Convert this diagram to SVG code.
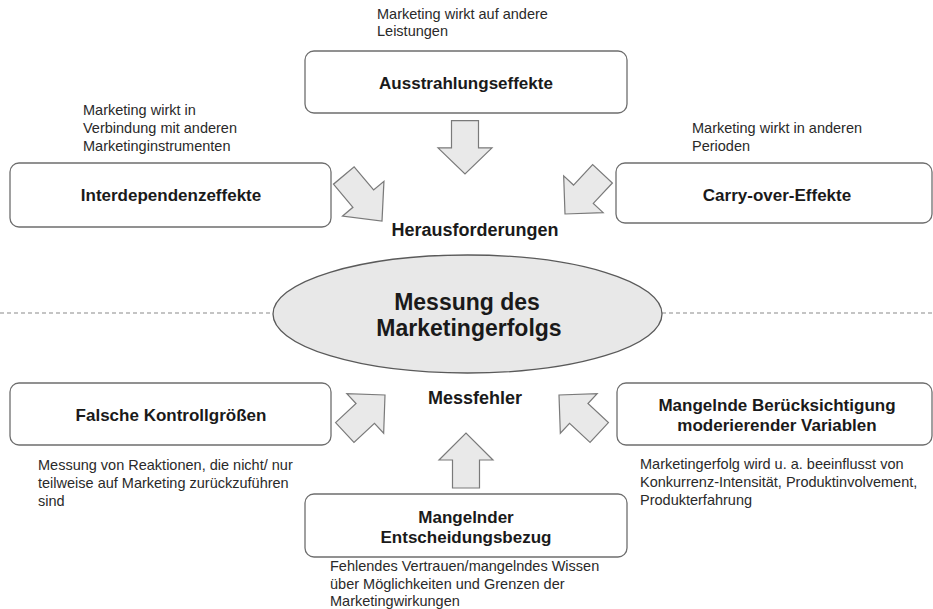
<svg xmlns="http://www.w3.org/2000/svg" xmlns:xlink="http://www.w3.org/1999/xlink" width="933" height="609" viewBox="0 0 933 609">
<style>
.box{fill:#fff;stroke:#6e6e6e;stroke-width:1.3}
.arr{fill:#e9e9e9;stroke:#7a7a7a;stroke-width:1.2;stroke-linejoin:miter}
.lbl{font-family:"Liberation Sans",Arial,sans-serif;font-weight:bold;font-size:17px;fill:#1a1a1a;text-anchor:middle}
.big{font-family:"Liberation Sans",Arial,sans-serif;font-weight:bold;font-size:18px;fill:#1a1a1a;text-anchor:middle}
.core{font-family:"Liberation Sans",Arial,sans-serif;font-weight:bold;font-size:23px;fill:#1a1a1a;text-anchor:middle}
.note{font-family:"Liberation Sans",Arial,sans-serif;font-size:14.5px;fill:#2a2a2a}
.dash{stroke:#8a8a8a;stroke-width:1.2;stroke-dasharray:4 3;fill:none}
</style>
<defs>
<polygon id="blk" points="-55,-13.5 -27,-13.5 -27,-27 0,0 -27,27 -27,13.5 -55,13.5"/>
</defs>
<rect width="933" height="609" fill="#fff"/>

<g id="divider">
<line class="dash" x1="0" y1="313" x2="273" y2="313"/>
<line class="dash" x1="662" y1="313" x2="933" y2="313"/>
</g>

<g id="connectors">
<use xlink:href="#blk" class="arr" transform="translate(465,174) rotate(90) scale(0.97,1)"/>
<use xlink:href="#blk" class="arr" transform="translate(382,221) rotate(50) scale(1.08,1)"/>
<use xlink:href="#blk" class="arr" transform="translate(565,214) rotate(133)"/>
<use xlink:href="#blk" class="arr" transform="translate(385,395) rotate(-43)"/>
<use xlink:href="#blk" class="arr" transform="translate(559,395) rotate(-137)"/>
<use xlink:href="#blk" class="arr" transform="translate(466,433) rotate(-90)"/>
</g>

<g id="node-ausstrahlung">
<text class="note" x="377" y="19">Marketing wirkt auf andere</text>
<text class="note" x="377" y="36">Leistungen</text>
<rect class="box" x="305" y="51" width="322" height="62" rx="9"/>
<text class="lbl" x="466" y="89">Ausstrahlungseffekte</text>
</g>

<g id="node-interdependenz">
<text class="note" x="83" y="115">Marketing wirkt in</text>
<text class="note" x="83" y="133">Verbindung mit anderen</text>
<text class="note" x="83" y="151">Marketinginstrumenten</text>
<rect class="box" x="10" y="163" width="321" height="64" rx="9"/>
<text class="lbl" x="171" y="201">Interdependenzeffekte</text>
</g>

<g id="node-carryover">
<text class="note" x="692" y="133">Marketing wirkt in anderen</text>
<text class="note" x="692" y="151">Perioden</text>
<rect class="box" x="616" y="163" width="316" height="60" rx="9"/>
<text class="lbl" x="777" y="201">Carry-over-Effekte</text>
</g>

<g id="node-herausforderungen">
<text class="big" x="475" y="236">Herausforderungen</text>
</g>

<g id="node-center">
<ellipse cx="467.5" cy="314" rx="194.5" ry="59" fill="#e8e8e8" stroke="#5a5a5a" stroke-width="1.3"/>
<text class="core" x="467" y="310">Messung des</text>
<text class="core" x="469" y="336">Marketingerfolgs</text>
</g>

<g id="node-messfehler">
<text class="big" x="475" y="404">Messfehler</text>
</g>

<g id="node-kontrollgroessen">
<rect class="box" x="10" y="383" width="321" height="62" rx="9"/>
<text class="lbl" x="171" y="421">Falsche Kontrollgrößen</text>
<text class="note" x="38" y="470">Messung von Reaktionen, die nicht/ nur</text>
<text class="note" x="38" y="488">teilweise auf Marketing zurückzuführen</text>
<text class="note" x="38" y="506">sind</text>
</g>

<g id="node-moderierend">
<rect class="box" x="617" y="383" width="315" height="62" rx="9"/>
<text class="lbl" x="777" y="411">Mangelnde Berücksichtigung</text>
<text class="lbl" x="777" y="431">moderierender Variablen</text>
<text class="note" x="640" y="469">Marketingerfolg wird u. a. beeinflusst von</text>
<text class="note" x="640" y="487">Konkurrenz-Intensität, Produktinvolvement,</text>
<text class="note" x="640" y="505">Produkterfahrung</text>
</g>

<g id="node-entscheidungsbezug">
<rect class="box" x="305" y="494" width="322" height="63" rx="9"/>
<text class="lbl" x="466" y="523">Mangelnder</text>
<text class="lbl" x="466" y="543">Entscheidungsbezug</text>
<text class="note" x="330" y="571">Fehlendes Vertrauen/mangelndes Wissen</text>
<text class="note" x="330" y="589">über Möglichkeiten und Grenzen der</text>
<text class="note" x="330" y="606">Marketingwirkungen</text>
</g>
</svg>
